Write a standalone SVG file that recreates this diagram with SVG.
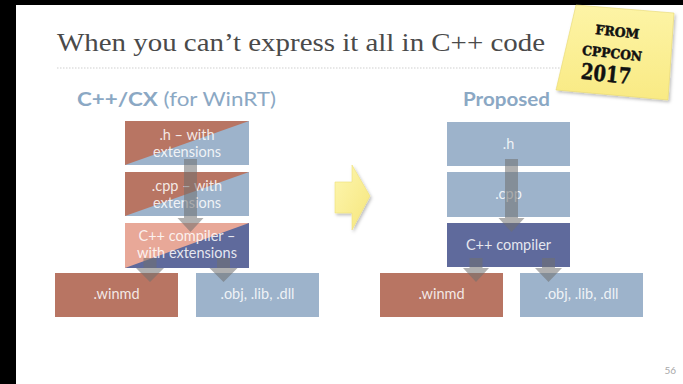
<svg xmlns="http://www.w3.org/2000/svg" width="683" height="384" viewBox="0 0 683 384">
  <defs>
    <style>
      .title { font-family: "Liberation Serif", "DejaVu Serif", serif; font-size: 25px; fill: #4a4a4a; }
      .head { font-family: Lato, "Open Sans", sans-serif; font-size: 19px; fill: #8ba8c4; }
      .lbl { font-family: Lato, "Open Sans", sans-serif; font-size: 14.5px; fill: #ffffff; fill-opacity: 0.85; text-anchor: middle; }
      .brown { fill: #b87563; }
      .blue { fill: #9db3cb; }
      .pink { fill: #e8a898; }
      .navy { fill: #5f6a9c; }
      .flow { fill: #6f6f6f; fill-opacity: 0.55; }
      .note { font-family: "DejaVu Serif", "Liberation Serif", serif; font-weight: bold; fill: #111111; stroke: #111111; stroke-width: 0.5; text-anchor: middle; }
    </style>
    <linearGradient id="noteFill" x1="0" y1="0" x2="0" y2="1">
      <stop offset="0" stop-color="#fdf4a6"/>
      <stop offset="1" stop-color="#f9ea84"/>
    </linearGradient>
    <linearGradient id="bigArrow" x1="0" y1="0" x2="1" y2="1">
      <stop offset="0" stop-color="#fdf6b0"/>
      <stop offset="1" stop-color="#f6e67c"/>
    </linearGradient>
    <filter id="soft" x="-10%" y="-10%" width="130%" height="130%">
      <feDropShadow dx="1.5" dy="2" stdDeviation="1.5" flood-color="#000" flood-opacity="0.25"/>
    </filter>
  </defs>

  <!-- page and frame -->
  <rect x="0" y="0" width="683" height="384" fill="#ffffff"/>
  <rect x="0" y="0" width="683" height="5" fill="#000000"/>
  <rect x="0" y="0" width="16" height="384" fill="#000000"/>

  <!-- title -->
  <text class="title" x="57" y="51" textLength="488" lengthAdjust="spacingAndGlyphs">When you can’t express it all in C++ code</text>
  <line x1="57" y1="68" x2="600" y2="68" stroke="#cfcfcf" stroke-width="1" stroke-dasharray="1.5 1.5"/>

  <!-- column headings -->
  <text class="head" x="77" y="106" textLength="199" lengthAdjust="spacingAndGlyphs"><tspan font-weight="bold">C++/CX</tspan> (for WinRT)</text>
  <text class="head" x="463" y="106" font-weight="bold" textLength="87" lengthAdjust="spacingAndGlyphs">Proposed</text>

  <!-- left column: C++/CX -->
  <g id="cx-h">
    <rect class="blue" x="125" y="121" width="124" height="44"/>
    <polygon class="brown" points="125,121 249,121 125,165"/>
    <text class="lbl" x="187" y="140">.h – with</text>
    <text class="lbl" x="187" y="157">extensions</text>
  </g>
  <g id="cx-cpp">
    <rect class="blue" x="125" y="172" width="124" height="44"/>
    <polygon class="brown" points="125,172 249,172 125,216"/>
    <text class="lbl" x="187" y="191">.cpp – with</text>
    <text class="lbl" x="187" y="208">extensions</text>
  </g>
  <g id="cx-compiler">
    <rect class="navy" x="125" y="223" width="124" height="45"/>
    <polygon class="pink" points="125,223 249,223 125,268"/>
    <text class="lbl" x="187" y="241">C++ compiler –</text>
    <text class="lbl" x="187" y="258">with extensions</text>
  </g>
  <g id="cx-winmd">
    <rect class="brown" x="55" y="273" width="123" height="44"/>
    <text class="lbl" x="116.5" y="299">.winmd</text>
  </g>
  <g id="cx-obj">
    <rect class="blue" x="196" y="273" width="123" height="44"/>
    <text class="lbl" x="257.5" y="299">.obj, .lib, .dll</text>
  </g>

  <!-- right column: proposed -->
  <g id="p-h">
    <rect class="blue" x="447" y="122" width="123" height="44"/>
    <text class="lbl" x="508.5" y="149">.h</text>
  </g>
  <g id="p-cpp">
    <rect class="blue" x="447" y="172" width="123" height="45"/>
    <text class="lbl" x="508.5" y="199">.cpp</text>
  </g>
  <g id="p-compiler">
    <rect class="navy" x="447" y="223" width="123" height="44"/>
    <text class="lbl" x="508.5" y="250">C++ compiler</text>
  </g>
  <g id="p-winmd">
    <rect class="brown" x="380" y="273" width="123" height="44"/>
    <text class="lbl" x="441.5" y="299">.winmd</text>
  </g>
  <g id="p-obj">
    <rect class="blue" x="520" y="273" width="123" height="44"/>
    <text class="lbl" x="581.5" y="299">.obj, .lib, .dll</text>
  </g>

  <!-- flow arrows -->
  <g id="connectors">
    <path class="flow" d="M184,159 H197 V218 H203.5 L190.5,232 L177.5,218 H184 Z"/>
    <path class="flow" d="M143.5,258 H156.5 V268 H164 L150,282 L136,268 H143.5 Z"/>
    <path class="flow" d="M217,258 H230 V268 H237.5 L223.5,282 L209.5,268 H217 Z"/>
    <path class="flow" d="M505,159 H518 V218 H524.5 L511.5,232 L498.5,218 H505 Z"/>
    <path class="flow" d="M469.5,258 H482.5 V268 H489 L476,282 L463,268 H469.5 Z"/>
    <path class="flow" d="M542,258 H555 V268 H562 L548.5,282 L535,268 H542 Z"/>
  </g>

  <!-- transition arrow between the columns -->
  <g id="transition">
    <polygon points="335,182 352,182 352,165 370,196 352,230 352,213 335,213" fill="url(#bigArrow)" stroke="#efe07a" stroke-width="0.6" filter="url(#soft)"/>
  </g>

  <!-- sticky note -->
  <g id="note">
    <polygon points="576,5 674,13 668,100 556,90" fill="url(#noteFill)" stroke="#e8d870" stroke-width="0.6" filter="url(#soft)"/>
    <g transform="rotate(6 612 55)">
      <text class="note" x="615" y="36" font-size="13" textLength="44" lengthAdjust="spacingAndGlyphs">FROM</text>
      <text class="note" x="612" y="58" font-size="13" textLength="60" lengthAdjust="spacingAndGlyphs">CPPCON</text>
      <text class="note" x="608" y="82" font-size="22" textLength="50" lengthAdjust="spacingAndGlyphs">2017</text>
    </g>
  </g>

  <!-- slide number -->
  <text x="676" y="374" font-family="Lato, 'Open Sans', sans-serif" font-size="10" fill="#a8a8a8" text-anchor="end">56</text>
</svg>
